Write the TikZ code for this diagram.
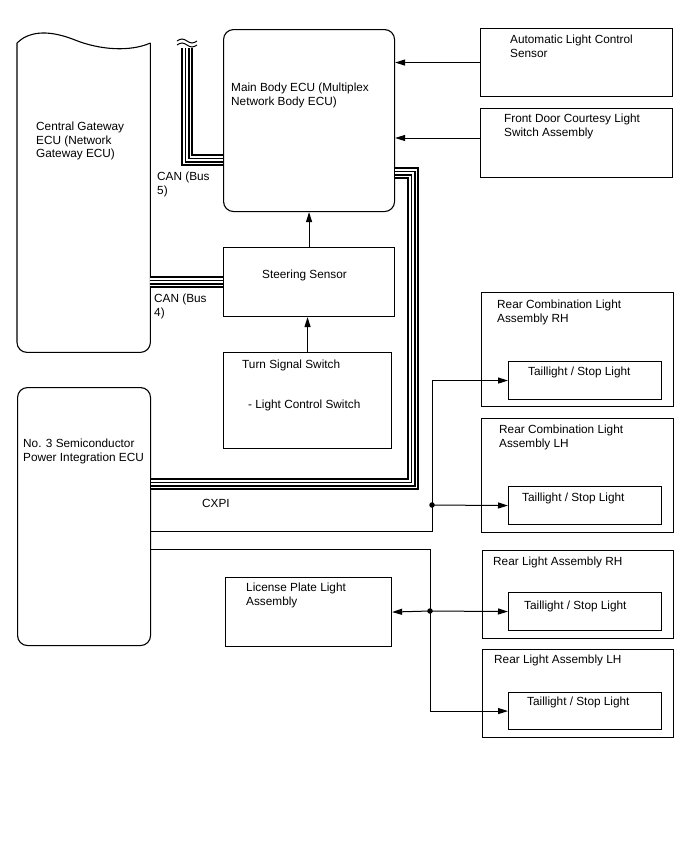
\documentclass[tikz,border=0pt]{standalone}
\usepackage{fontspec}
\setmainfont{Liberation Sans}
\usetikzlibrary{arrows.meta, positioning, calc}
\begin{document}
\begin{tikzpicture}[
        x=1pt, y=-1pt,
        block/.style={rectangle, draw=black, line width=1.1pt, inner sep=0pt, anchor=north west},
        ecu/.style={block, rounded corners=10pt},
        ghost/.style={rectangle, inner sep=0pt, anchor=north west},
        outline/.style={draw=black, line width=1.1pt},
        txt/.style={font=\fontsize{11.8}{13.5}\selectfont, align=left, inner sep=0pt, anchor=north west},
        wire/.style={line width=1pt},
        arrow/.style={line width=1pt, -{Triangle[length=10pt, width=6pt]}},
        bus/.style={line width=12pt, line join=miter,
                    postaction={draw=white, line width=8pt},
                    postaction={draw=black, line width=5pt},
                    postaction={draw=white, line width=2pt}},
        dot/.style={circle, fill=black, inner sep=0pt, minimum size=5.5pt}
    ]%
    \useasboundingbox (0,0) rectangle (688,852);
    %
    % Left ECUs
    \node[ghost, minimum width=133pt, minimum height=309pt] (gw) at (17,43) {};
    \draw[outline, rounded corners=10pt] (gw.north east) -- (gw.south east) -- (gw.south west) -- (gw.north west);
    \draw[outline] (gw.north west) .. controls (27,33) and (45,28) .. (75,40) .. controls (100,50) and (130,52) .. (gw.north east);
    \node[ecu, minimum width=133pt, minimum height=258pt] (n3) at (17,387) {};
    %
    % Centre column
    \node[ecu, minimum width=171pt, minimum height=182pt] (mb) at (223,29) {};
    \node[block, minimum width=171pt, minimum height=69pt] (ss) at (223,247) {};
    \node[block, minimum width=168pt, minimum height=96pt] (tss) at (223,352) {};
    \node[block, minimum width=166pt, minimum height=69pt] (lp) at (225,577) {};
    %
    % Right column
    \node[block, minimum width=192pt, minimum height=68pt] (als) at (480,28) {};
    \node[block, minimum width=192pt, minimum height=69pt] (fdc) at (480,108) {};
    \node[block, minimum width=192pt, minimum height=114pt] (rclrh) at (481,292) {};
    \node[block, minimum width=153pt, minimum height=38pt] (tl1) at (508,361) {};
    \node[block, minimum width=192pt, minimum height=114pt] (rcllh) at (481,418) {};
    \node[block, minimum width=153pt, minimum height=38pt] (tl2) at (508,486) {};
    \node[block, minimum width=191pt, minimum height=88pt] (rlrh) at (482,550) {};
    \node[block, minimum width=153pt, minimum height=38pt] (tl3) at (508,592) {};
    \node[block, minimum width=191pt, minimum height=88pt] (rllh) at (482,649) {};
    \node[block, minimum width=153pt, minimum height=37pt] (tl4) at (508,692) {};
    %
    % Texts
    \node[txt] (gw text) at (36,122) {Central Gateway\\ECU (Network\\Gateway ECU)};
    \node[txt] (n3 text) at (23,439) {No. 3 Semiconductor\\Power Integration ECU};
    \node[txt] (mb text) at (231,83) {Main Body ECU (Multiplex\\Network Body ECU)};
    \node[txt] (ss text) at (262,270) {Steering Sensor};
    \node[txt] (tss text) at (242,360) {Turn Signal Switch};
    \node[txt] (lcs text) at (248,400) {- Light Control Switch};
    \node[txt] (lp text) at (246,583) {License Plate Light\\Assembly};
    \node[txt] (als text) at (510,35) {Automatic Light Control\\Sensor};
    \node[txt] (fdc text) at (504,114) {Front Door Courtesy Light\\Switch Assembly};
    \node[txt] (rclrh text) at (497,300) {Rear Combination Light\\Assembly RH};
    \node[txt] (tl1 text) at (528,367) {Taillight / Stop Light};
    \node[txt] (rcllh text) at (499,425) {Rear Combination Light\\Assembly LH};
    \node[txt] (tl2 text) at (522,493) {Taillight / Stop Light};
    \node[txt] (rlrh text) at (493,557) {Rear Light Assembly RH};
    \node[txt] (tl3 text) at (524,601) {Taillight / Stop Light};
    \node[txt] (rllh text) at (494,655) {Rear Light Assembly LH};
    \node[txt] (tl4 text) at (527,697) {Taillight / Stop Light};
    \node[txt] (can5 text) at (157,172) {CAN (Bus\\5)};
    \node[txt] (can4 text) at (154,294) {CAN (Bus\\4)};
    \node[txt] (cxpi text) at (202,499) {CXPI};
    %
    % Buses
    \coordinate (bus5end) at (187,48);
    \draw[bus] (mb.west |- 0,160) -| (bus5end);
    \draw[line width=1pt] (177,41) sin (182,39) cos (187,41) sin (192,43) cos (197,41);
    \draw[line width=1pt] (177,45) sin (182,43) cos (187,45) sin (192,47) cos (197,45);
    \draw[bus] (gw.east |- ss.west) -- (ss.west);
    \draw[bus] (mb.east |- 0,173) -- (413,173) -- (413,484) -- (n3.east |- 0,484);
    %
    % Inputs to the main body ECU
    \draw[arrow] (als.west) -- (mb.east |- als.west);
    \draw[arrow] (fdc.west |- 0,138) -- (mb.east |- 0,138);
    \draw[arrow] (ss.north) -- (ss.north |- mb.south);
    \draw[arrow] (tss.north) -- (tss.north |- ss.south);
    %
    % Light outputs
    \node[dot] (j1) at (432,505) {};
    \node[dot] (j2) at (430,611) {};
    \draw[arrow] (n3.east |- 0,531) -| (j1.center |- tl1.west) -- (tl1.west);
    \draw[arrow] (j1.center) -- (tl2.west);
    \draw[arrow] (n3.east |- 0,549) -| (j2.center |- tl4.west) -- (tl4.west);
    \draw[arrow] (j2.center) -- (tl3.west);
    \draw[arrow] (j2.center) -- (lp.east);
\end{tikzpicture}
\end{document}
